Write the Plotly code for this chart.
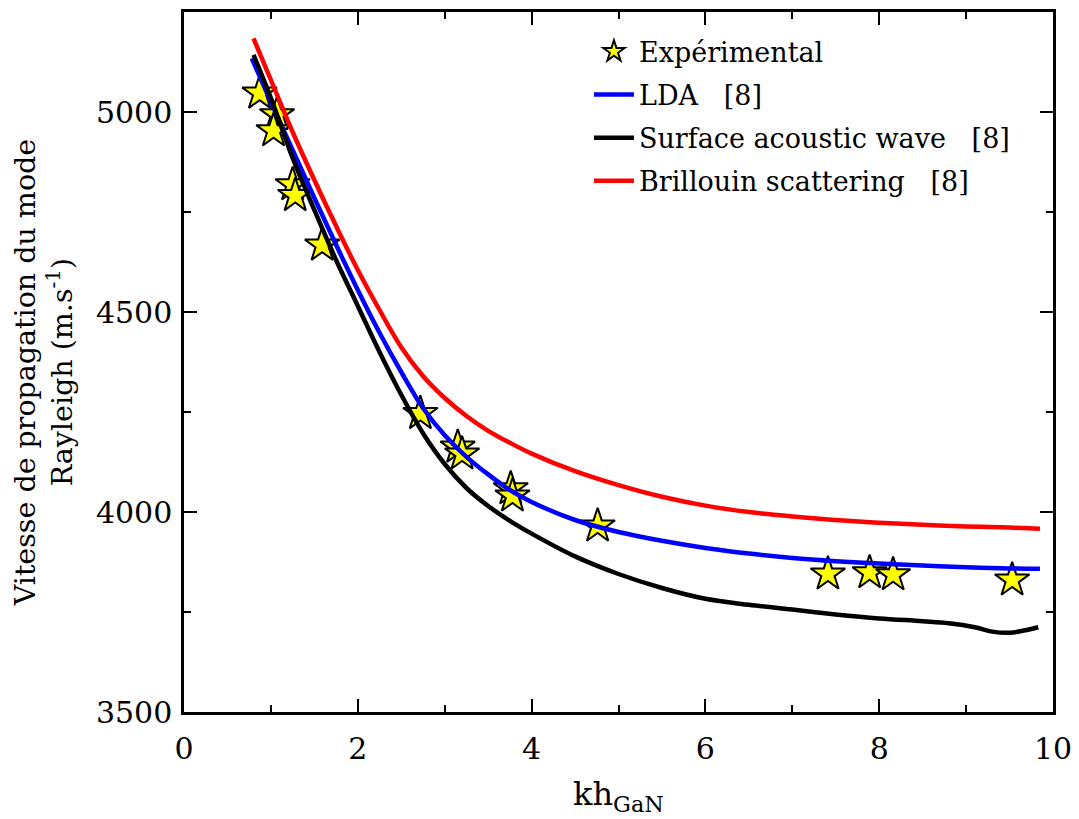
import plotly.graph_objects as go

# Experimental points
kh_exp = [0.87, 1.07, 1.03, 1.25, 1.28, 1.59, 2.72, 3.15, 3.20, 3.76, 3.78, 4.76, 7.41, 7.89, 8.16, 9.53]
v_exp = [5047, 4993, 4953, 4818, 4791, 4667, 4246, 4162, 4145, 4058, 4040, 3965, 3845, 3848, 3843, 3830]

# LDA [8]
kh_lda = [0.78, 1.0, 1.25, 1.5, 1.75, 2.0, 2.25, 2.5, 2.75, 3.0, 3.25, 3.5, 3.75, 4.0, 4.5, 5.0,
          5.5, 6.0, 6.5, 7.0, 7.5, 8.0, 8.5, 9.0, 9.5, 9.85]
v_lda = [5134, 5025, 4905, 4785, 4668, 4555, 4448, 4350, 4260, 4192, 4138, 4094, 4055, 4025, 3980, 3950,
         3928, 3910, 3896, 3885, 3877, 3871, 3866, 3862, 3859, 3858]

# Surface acoustic wave [8]
kh_saw = [0.80, 1.0, 1.25, 1.5, 1.75, 2.0, 2.25, 2.5, 2.75, 3.0, 3.25, 3.5, 3.75, 4.0, 4.5, 5.0,
          5.5, 6.0, 6.5, 7.0, 7.5, 8.0, 8.5, 8.8, 9.1, 9.3, 9.5, 9.65, 9.83]
v_saw = [5143, 5035, 4885, 4755, 4630, 4515, 4400, 4293, 4197, 4120, 4060, 4015, 3978, 3946, 3889, 3845,
         3810, 3783, 3768, 3756, 3744, 3734, 3727, 3722, 3712, 3701, 3698, 3703, 3712]

# Brillouin scattering [8]
kh_bri = [0.80, 1.0, 1.25, 1.5, 1.75, 2.0, 2.25, 2.5, 2.75, 3.0, 3.25, 3.5, 3.75, 4.0, 4.5, 5.0,
          5.5, 6.0, 6.5, 7.0, 7.5, 8.0, 8.5, 9.0, 9.5, 9.85]
v_bri = [5184, 5080, 4950, 4830, 4715, 4605, 4505, 4412, 4340, 4285, 4240, 4203, 4173, 4146, 4102, 4067,
         4038, 4016, 4000, 3989, 3980, 3973, 3968, 3964, 3961, 3958]

x_ticks = [0, 2, 4, 6, 8, 10]
y_ticks = [3500, 4000, 4500, 5000]

FONT = "DejaVu Serif"
FS = 27
NB = "\u00a0"

fig = go.Figure()
fig.add_trace(go.Scatter(
    x=kh_exp, y=v_exp, mode="markers", name="Expérimental", legendgroup="a",
    marker=dict(symbol="star", size=26, color="#ffff00", line=dict(color="black", width=2)),
))
fig.add_trace(go.Scatter(
    x=kh_lda, y=v_lda, mode="lines", name="LDA" + NB * 3 + "[8]", legendgroup="b",
    line=dict(color="#0000ff", width=4.5, shape="spline", smoothing=1.0),
))
fig.add_trace(go.Scatter(
    x=kh_saw, y=v_saw, mode="lines", name="Surface acoustic wave" + NB * 3 + "[8]", legendgroup="c",
    line=dict(color="#000000", width=4.5, shape="spline", smoothing=1.0),
))
fig.add_trace(go.Scatter(
    x=kh_bri, y=v_bri, mode="lines", name="Brillouin scattering" + NB * 3 + "[8]", legendgroup="d",
    line=dict(color="#ff0000", width=4.5, shape="spline", smoothing=1.0),
))

axis_common = dict(
    showline=True, linecolor="black", linewidth=2.5, mirror="allticks",
    ticks="inside", ticklen=13, tickwidth=2, tickcolor="black",
    showgrid=False, zeroline=False,
    tickfont=dict(family=FONT, size=30, color="black"),
)

fig.update_xaxes(range=[0, 10], tickvals=x_ticks, ticktext=[str(v) for v in x_ticks],
                 minor=dict(dtick=1, ticks="inside", ticklen=7, tickwidth=2, tickcolor="black"),
                 ticklabelstandoff=8, **axis_common)
fig.update_yaxes(range=[3500, 5250], tickvals=y_ticks, ticktext=[str(v) for v in y_ticks],
                 minor=dict(dtick=250, ticks="inside", ticklen=7, tickwidth=2, tickcolor="black"),
                 ticklabelstandoff=3, **axis_common)

fig.update_layout(
    width=1071, height=811,
    margin=dict(l=176, r=26, t=1, b=107),
    paper_bgcolor="white", plot_bgcolor="white",
    font=dict(family=FONT, size=FS, color="black"),
    showlegend=True,
    legend=dict(x=0.466, y=0.978, xanchor="left", yanchor="top", bgcolor="rgba(0,0,0,0)",
                font=dict(family=FONT, size=FS, color="black"), tracegroupgap=5,
                itemwidth=40),
    annotations=[
        dict(text="Vitesse de propagation du mode<br>Rayleigh (m.s<sup>-1</sup>)",
             xref="paper", yref="paper", x=-0.161, y=0.484, xanchor="center", yanchor="middle",
             textangle=-90, showarrow=False, font=dict(family=FONT, size=28.5, color="black")),
        dict(text="kh<sub>GaN</sub>", xref="paper", yref="paper", x=0.5, y=-0.12,
             xanchor="center", yanchor="middle", showarrow=False,
             font=dict(family=FONT, size=32, color="black")),
    ],
)

fig.write_html("out.html")
